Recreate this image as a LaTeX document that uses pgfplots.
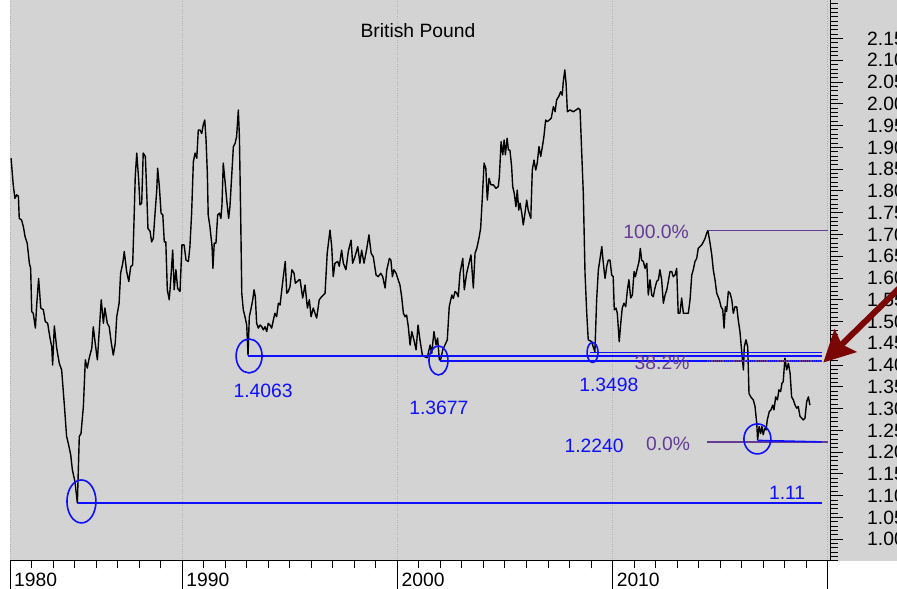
\documentclass[border=0pt]{standalone}
\usepackage{fontspec}
\setmainfont{Liberation Sans}
\usepackage{pgfplots}
\pgfplotsset{compat=1.18}
\usetikzlibrary{arrows.meta}
\definecolor{bggray}{RGB}{211,211,211}
\definecolor{gridgray}{RGB}{178,178,178}
\definecolor{fibblue}{RGB}{15,15,255}
\definecolor{fibpurple}{RGB}{100,60,150}
\definecolor{arrowred}{RGB}{122,6,6}
\newcommand{\lab}{\fontsize{19.3}{22}\selectfont}
\pgfplotstableread{
year val
1982.05 1.875
1982.15 1.814
1982.23 1.783
1982.31 1.791
1982.39 1.788
1982.43 1.737
1982.54 1.733
1982.62 1.718
1982.70 1.695
1982.80 1.680
1982.90 1.634
1982.96 1.622
1983.01 1.523
1983.08 1.519
1983.18 1.485
1983.24 1.538
1983.33 1.599
1983.43 1.531
1983.55 1.527
1983.64 1.500
1983.75 1.496
1983.86 1.462
1983.94 1.442
1983.98 1.400
1984.06 1.490
1984.17 1.439
1984.29 1.404
1984.40 1.389
1984.52 1.312
1984.63 1.236
1984.71 1.220
1984.82 1.194
1984.90 1.159
1985.02 1.132
1985.13 1.083
1985.22 1.236
1985.30 1.243
1985.41 1.305
1985.50 1.412
1985.59 1.393
1985.68 1.416
1985.80 1.439
1985.87 1.488
1985.96 1.450
1986.06 1.412
1986.15 1.481
1986.24 1.550
1986.34 1.496
1986.41 1.531
1986.52 1.496
1986.61 1.488
1986.71 1.450
1986.80 1.423
1986.89 1.450
1986.96 1.511
1987.07 1.542
1987.14 1.611
1987.24 1.634
1987.31 1.661
1987.42 1.615
1987.52 1.592
1987.61 1.626
1987.70 1.630
1987.76 1.726
1987.82 1.833
1987.89 1.887
1987.98 1.825
1988.04 1.768
1988.12 1.772
1988.19 1.887
1988.29 1.879
1988.35 1.802
1988.41 1.714
1988.51 1.707
1988.58 1.683
1988.66 1.691
1988.74 1.749
1988.82 1.802
1988.86 1.852
1988.94 1.810
1989.02 1.749
1989.10 1.745
1989.17 1.683
1989.24 1.683
1989.31 1.573
1989.40 1.550
1989.48 1.603
1989.56 1.664
1989.63 1.573
1989.71 1.619
1989.79 1.576
1989.90 1.569
1989.99 1.676
1990.09 1.676
1990.18 1.641
1990.29 1.638
1990.36 1.672
1990.44 1.749
1990.52 1.867
1990.60 1.887
1990.68 1.875
1990.75 1.940
1990.83 1.940
1990.91 1.932
1990.98 1.952
1991.05 1.963
1991.11 1.917
1991.17 1.841
1991.21 1.745
1991.29 1.718
1991.39 1.672
1991.43 1.622
1991.49 1.680
1991.57 1.680
1991.65 1.745
1991.73 1.749
1991.80 1.737
1991.85 1.768
1991.91 1.864
1992.00 1.818
1992.07 1.779
1992.16 1.737
1992.22 1.764
1992.30 1.833
1992.38 1.902
1992.46 1.909
1992.53 1.925
1992.61 1.986
1992.66 1.925
1992.72 1.741
1992.77 1.565
1992.84 1.527
1992.92 1.511
1993.00 1.492
1993.06 1.423
1993.12 1.511
1993.19 1.527
1993.28 1.550
1993.34 1.573
1993.40 1.557
1993.46 1.496
1993.54 1.485
1993.62 1.492
1993.70 1.488
1993.77 1.481
1993.85 1.488
1993.93 1.477
1994.00 1.496
1994.08 1.492
1994.16 1.485
1994.24 1.504
1994.31 1.519
1994.39 1.511
1994.47 1.542
1994.55 1.538
1994.63 1.573
1994.70 1.603
1994.79 1.638
1994.86 1.565
1994.93 1.569
1995.01 1.580
1995.10 1.619
1995.20 1.611
1995.26 1.588
1995.35 1.592
1995.44 1.596
1995.48 1.596
1995.60 1.554
1995.71 1.584
1995.82 1.531
1995.91 1.550
1995.99 1.511
1996.09 1.531
1996.25 1.508
1996.37 1.550
1996.48 1.557
1996.64 1.565
1996.74 1.657
1996.87 1.710
1996.95 1.672
1997.02 1.603
1997.10 1.634
1997.23 1.638
1997.30 1.627
1997.41 1.664
1997.49 1.634
1997.61 1.619
1997.72 1.661
1997.85 1.687
1997.92 1.634
1998.03 1.649
1998.16 1.672
1998.26 1.634
1998.34 1.664
1998.45 1.634
1998.58 1.668
1998.68 1.699
1998.78 1.657
1998.88 1.649
1999.01 1.607
1999.11 1.603
1999.23 1.611
1999.32 1.603
1999.43 1.577
1999.51 1.619
1999.63 1.645
1999.70 1.641
1999.77 1.603
1999.84 1.619
1999.94 1.611
2000.04 1.596
2000.12 1.584
2000.20 1.557
2000.28 1.519
2000.36 1.511
2000.43 1.515
2000.51 1.488
2000.59 1.446
2000.67 1.477
2000.77 1.458
2000.87 1.435
2000.96 1.492
2001.05 1.458
2001.16 1.423
2001.28 1.419
2001.39 1.417
2001.52 1.446
2001.60 1.427
2001.70 1.477
2001.80 1.446
2001.87 1.462
2001.95 1.412
2002.01 1.412
2002.11 1.435
2002.21 1.446
2002.32 1.458
2002.41 1.534
2002.53 1.561
2002.60 1.553
2002.68 1.569
2002.76 1.565
2002.83 1.557
2002.91 1.611
2003.04 1.645
2003.11 1.573
2003.22 1.611
2003.33 1.634
2003.42 1.653
2003.53 1.577
2003.61 1.657
2003.69 1.668
2003.79 1.691
2003.87 1.714
2003.95 1.787
2004.03 1.864
2004.11 1.852
2004.18 1.779
2004.26 1.829
2004.35 1.814
2004.46 1.814
2004.58 1.806
2004.69 1.810
2004.74 1.833
2004.82 1.913
2004.90 1.883
2004.96 1.917
2005.02 1.883
2005.10 1.921
2005.16 1.894
2005.23 1.894
2005.31 1.856
2005.36 1.810
2005.43 1.795
2005.51 1.764
2005.57 1.802
2005.64 1.756
2005.70 1.772
2005.78 1.749
2005.85 1.722
2005.93 1.749
2006.01 1.779
2006.08 1.756
2006.20 1.737
2006.27 1.848
2006.35 1.871
2006.43 1.848
2006.50 1.864
2006.58 1.902
2006.66 1.879
2006.74 1.902
2006.81 1.925
2006.89 1.963
2006.97 1.959
2007.06 1.963
2007.15 1.967
2007.25 1.994
2007.33 1.982
2007.40 2.009
2007.50 2.017
2007.59 2.028
2007.66 2.020
2007.71 2.051
2007.78 2.078
2007.84 2.047
2007.90 1.982
2008.02 1.986
2008.18 1.982
2008.30 1.986
2008.41 1.990
2008.49 1.986
2008.58 1.871
2008.64 1.795
2008.72 1.611
2008.80 1.519
2008.87 1.458
2009.03 1.454
2009.10 1.442
2009.18 1.431
2009.26 1.550
2009.34 1.619
2009.42 1.645
2009.50 1.672
2009.57 1.634
2009.65 1.599
2009.73 1.627
2009.80 1.641
2009.88 1.641
2009.96 1.607
2010.03 1.603
2010.08 1.527
2010.16 1.531
2010.22 1.519
2010.31 1.454
2010.38 1.496
2010.45 1.531
2010.53 1.542
2010.61 1.534
2010.69 1.573
2010.76 1.596
2010.84 1.554
2010.92 1.561
2011.00 1.615
2011.06 1.603
2011.15 1.622
2011.23 1.638
2011.29 1.668
2011.35 1.641
2011.43 1.638
2011.51 1.622
2011.59 1.634
2011.66 1.561
2011.74 1.596
2011.82 1.561
2011.89 1.557
2011.97 1.577
2012.05 1.592
2012.13 1.596
2012.20 1.619
2012.28 1.596
2012.36 1.542
2012.44 1.561
2012.52 1.573
2012.59 1.592
2012.67 1.615
2012.75 1.615
2012.82 1.603
2012.90 1.607
2012.98 1.622
2013.05 1.519
2013.13 1.519
2013.21 1.554
2013.29 1.519
2013.41 1.519
2013.52 1.519
2013.60 1.550
2013.68 1.607
2013.75 1.619
2013.83 1.638
2013.91 1.645
2013.98 1.668
2014.06 1.672
2014.14 1.676
2014.22 1.683
2014.30 1.691
2014.37 1.703
2014.43 1.709
2014.53 1.680
2014.61 1.653
2014.68 1.619
2014.76 1.596
2014.84 1.565
2014.96 1.550
2015.04 1.534
2015.12 1.527
2015.18 1.485
2015.24 1.534
2015.30 1.523
2015.38 1.569
2015.46 1.565
2015.54 1.550
2015.61 1.519
2015.69 1.534
2015.77 1.534
2015.84 1.504
2015.92 1.477
2016.00 1.431
2016.08 1.389
2016.12 1.442
2016.20 1.458
2016.28 1.442
2016.34 1.335
2016.42 1.327
2016.54 1.320
2016.62 1.305
2016.70 1.266
2016.74 1.228
2016.81 1.259
2016.88 1.243
2016.94 1.259
2017.00 1.240
2017.07 1.255
2017.13 1.251
2017.19 1.274
2017.28 1.293
2017.36 1.297
2017.44 1.308
2017.50 1.297
2017.58 1.327
2017.66 1.320
2017.73 1.343
2017.81 1.339
2017.87 1.358
2017.93 1.362
2018.01 1.416
2018.09 1.389
2018.17 1.404
2018.25 1.381
2018.32 1.327
2018.40 1.320
2018.48 1.308
2018.56 1.301
2018.63 1.305
2018.71 1.282
2018.79 1.278
2018.86 1.274
2018.94 1.278
2019.02 1.316
2019.10 1.327
2019.17 1.308
}\gbp

\begin{document}
\begin{tikzpicture}[x=1pt,y=1pt]
\fill[bggray] (0,0) rectangle (887,561);
\begin{axis}[
  at={(0,0)}, anchor=south west,
  scale only axis, width=820pt, height=561pt,
  xmin=1982, xmax=2020.104, ymin=0.95, ymax=2.2386,
  axis x line*=bottom, axis y line*=right,
  axis line style={black, line width=1pt, -},
  xtick={1982,1990,2000,2010,2020},
  xticklabels={1980,1990,2000,2010,{}},
  minor xtick={1983,1984,1985,1986,1987,1988,1989,1991,1992,1993,1994,1995,1996,1997,1998,1999,2001,2002,2003,2004,2005,2006,2007,2008,2009,2011,2012,2013,2014,2015,2016,2017,2018,2019},
  ytick={1.00,1.05,1.10,1.15,1.20,1.25,1.30,1.35,1.40,1.45,1.50,1.55,1.60,1.65,1.70,1.75,1.80,1.85,1.90,1.95,2.00,2.05,2.10,2.15},
  minor ytick={0.95,0.96,...,2.24},
  tick align=outside,
  major tick length=13pt, minor tick length=7.5pt,
  tick style={black, line width=1pt},
  xmajorgrids=true, ymajorgrids=false,
  grid style={dotted, gridgray, line width=0.9pt},
  yticklabel pos=right,
  ticklabel style={font=\lab},
  yticklabel style={anchor=west, inner sep=0pt, xshift=24pt,
    /pgf/number format/.cd, fixed, fixed zerofill, precision=2, assume math mode=true},
  xticklabel style={anchor=north west, inner sep=0pt, xshift=4pt, yshift=1.5pt},
  clip=false,
]
\addplot[black, line width=1.4pt, line join=round] table[x=year, y=val] {\gbp};

% purple fib levels
\draw[fibpurple, line width=1.4pt] (axis cs:2014.42,1.7088) -- (axis cs:2020.0,1.7088);
\draw[fibpurple, line width=1.4pt] (axis cs:2014.39,1.2235) -- (axis cs:2020.0,1.2235);
% blue support lines
\draw[fibblue, line width=1.6pt] (axis cs:1985.16,1.0827) -- (axis cs:2019.73,1.0827);
\draw[fibblue, line width=1.6pt] (axis cs:1993.06,1.421) -- (axis cs:2019.73,1.421);
\draw[fibblue, line width=1.6pt] (axis cs:2001.98,1.410) -- (axis cs:2019.73,1.410);
\draw[fibblue, line width=1.6pt] (axis cs:2008.95,1.4286) -- (axis cs:2019.73,1.4286);
\draw[fibblue, line width=1.6pt] (axis cs:2016.76,1.2269) -- (axis cs:2019.73,1.2235);
\draw[fibpurple, line width=1.2pt, densely dotted] (axis cs:2014.39,1.4095) -- (axis cs:2019.73,1.4095);
% circles
\draw[fibblue, line width=1.6pt] (axis cs:1985.32,1.0868) ellipse [x radius=14.5pt, y radius=21.5pt];
\draw[fibblue, line width=1.6pt] (axis cs:1993.11,1.421) ellipse [x radius=13pt, y radius=17pt];
\draw[fibblue, line width=1.6pt] (axis cs:2001.91,1.4107) ellipse [x radius=9.5pt, y radius=14.5pt];
\draw[fibblue, line width=1.6pt] (axis cs:2009.07,1.429) ellipse [x radius=5.5pt, y radius=10pt];
\draw[fibblue, line width=1.6pt] (axis cs:2016.73,1.2304) ellipse [x radius=13.5pt, y radius=15pt];
% labels
\node[fibblue, font=\lab] at (axis cs:1993.76,1.3406) {1.4063};
\node[fibblue, font=\lab] at (axis cs:2001.93,1.3016) {1.3677};
\node[fibblue, font=\lab] at (axis cs:2009.83,1.3544) {1.3498};
\node[fibblue, font=\lab] at (axis cs:2009.14,1.2143) {1.2240};
\node[fibblue, font=\lab] at (axis cs:2018.11,1.1063) {1.11};
\node[fibpurple, font=\lab] at (axis cs:2012.02,1.7058) {100.0\%};
\node[fibpurple, font=\lab] at (axis cs:2012.30,1.4049) {38.2\%};
\node[fibpurple, font=\lab] at (axis cs:2012.58,1.2189) {0.0\%};
% long decade ticks
\draw[black, line width=1pt] (axis cs:1982,0.95) -- ++(0pt,-29pt);
\draw[black, line width=1pt] (axis cs:1990,0.95) -- ++(0pt,-29pt);
\draw[black, line width=1pt] (axis cs:2000,0.95) -- ++(0pt,-29pt);
\draw[black, line width=1pt] (axis cs:2010,0.95) -- ++(0pt,-29pt);
\draw[black, line width=1pt] (axis cs:2020,0.95) -- ++(0pt,-29pt);
\coordinate (atail) at (axis cs:2023.82,1.6006);
\coordinate (atip) at (axis cs:2019.79,1.4058);
\end{axis}
\node[font=\lab] at (418-10,530) {British Pound};
\draw[arrowred, line width=6pt, -{Stealth[length=31pt,width=31pt,inset=5pt]}] (atail) -- (atip);
\pgfresetboundingbox
\useasboundingbox (-10,-28) rectangle (887,561);
\end{tikzpicture}
\end{document}
